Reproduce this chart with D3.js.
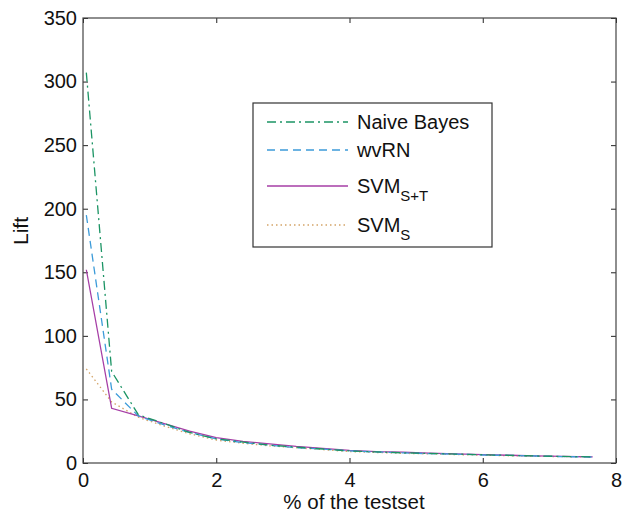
<!DOCTYPE html>
<html>
<head>
<meta charset="utf-8">
<script src="https://cdn.jsdelivr.net/npm/d3@7"></script>
<style>
  body { margin: 0; background: #fff; }
  svg text { font-family: Arial, "Liberation Sans", sans-serif; fill: #111; }
</style>
</head>
<body>
<div id="chart"></div>
<script>
// % of the testset
const pct = [0.05, 0.43, 0.83, 1.22, 1.6, 2.0, 2.4, 2.8, 3.2, 3.6, 4.0, 4.4, 4.8, 5.2, 5.6, 6.0, 6.4, 6.8, 7.2, 7.65];

const naiveBayes = [307, 72, 38, 31, 24, 19, 16.5, 14, 12.5, 11, 9.5, 8.7, 8, 7.5, 7, 6.5, 6, 5.5, 5.2, 4.8];
const wvRN       = [195, 58, 37, 30, 24, 19, 16, 14, 12, 11, 9.5, 8.7, 8, 7.3, 7, 6.3, 6, 5.5, 5, 4.7];
const svmST      = [152, 43, 37, 31, 25, 20, 17, 15, 13, 11.5, 10, 9, 8.5, 7.8, 7.2, 6.6, 6.1, 5.6, 5.2, 4.8];
const svmS       = [74, 48, 36, 29, 23, 18, 15.5, 13.5, 12, 10.5, 9, 8.3, 7.6, 7.2, 6.6, 6.2, 5.7, 5.3, 5, 4.7];

const xTicks = [0, 2, 4, 6, 8];
const yTicks = [0, 50, 100, 150, 200, 250, 300, 350];

const series = [
    { name: "Naive Bayes", sub: "", values: naiveBayes, color: "#1b9464", dash: "9,4,2,4" },
    { name: "wvRN", sub: "", values: wvRN, color: "#3c9bd9", dash: "8,5" },
    { name: "SVM", sub: "S+T", values: svmST, color: "#a63ea6", dash: null },
    { name: "SVM", sub: "S", values: svmS, color: "#d4a468", dash: "1.5,3" }
];

const width = 623, height = 514;
const margin = { top: 18, right: 7, bottom: 51, left: 83 };

const svg = d3.select("#chart").append("svg")
    .attr("width", width)
    .attr("height", height);

const x = d3.scaleLinear().domain([0, 8]).range([margin.left, width - margin.right]);
const y = d3.scaleLinear().domain([0, 350]).range([height - margin.bottom, margin.top]);

// axes, ticks point inward
svg.append("g")
    .attr("transform", `translate(0,${y(0)})`)
    .call(d3.axisBottom(x).tickValues(xTicks).tickSizeInner(-5).tickSizeOuter(0).tickPadding(10))
    .call(g => g.select(".domain").remove())
    .call(g => g.selectAll("text").attr("font-size", 20).attr("font-family", null));

svg.append("g")
    .attr("transform", `translate(${margin.left},0)`)
    .call(d3.axisLeft(y).tickValues(yTicks).tickSizeInner(-5).tickSizeOuter(0).tickPadding(6))
    .call(g => g.select(".domain").remove())
    .call(g => g.selectAll("text").attr("font-size", 20).attr("font-family", null));

// ticks on top and right edges
svg.append("g")
    .attr("transform", `translate(0,${y(350)})`)
    .call(d3.axisTop(x).tickValues(xTicks).tickSizeInner(-5).tickSizeOuter(0).tickFormat(""))
    .call(g => g.select(".domain").remove());
svg.append("g")
    .attr("transform", `translate(${x(8)},0)`)
    .call(d3.axisRight(y).tickValues(yTicks).tickSizeInner(-5).tickSizeOuter(0).tickFormat(""))
    .call(g => g.select(".domain").remove());

svg.selectAll(".tick line").attr("stroke", "#222");

// frame
svg.append("rect")
    .attr("x", x(0)).attr("y", y(350))
    .attr("width", x(8) - x(0)).attr("height", y(0) - y(350))
    .attr("fill", "none")
    .attr("stroke", "#444")
    .attr("stroke-width", 1.2);

const line = d3.line()
    .x((d, i) => x(pct[i]))
    .y(d => y(d));

svg.append("g")
    .selectAll("path")
    .data(series.slice().reverse())
    .enter()
    .append("path")
    .attr("d", d => line(d.values))
    .attr("fill", "none")
    .attr("stroke", d => d.color)
    .attr("stroke-width", 1.3)
    .attr("stroke-dasharray", d => d.dash);

// axis labels
svg.append("text")
    .attr("x", 354).attr("y", 509)
    .attr("text-anchor", "middle")
    .attr("font-size", 20.5)
    .text("% of the testset");

svg.append("text")
    .attr("transform", "translate(28,231) rotate(-90)")
    .attr("text-anchor", "middle")
    .attr("font-size", 21)
    .text("Lift");

// legend
const legend = svg.append("g").attr("transform", "translate(253,103)");
legend.append("rect")
    .attr("width", 239).attr("height", 144)
    .attr("fill", "#fff")
    .attr("stroke", "#333")
    .attr("stroke-width", 1.2);

const rowY = [19, 47, 83, 122];
const items = legend.selectAll("g.item")
    .data(series)
    .enter()
    .append("g")
    .attr("class", "item")
    .attr("transform", (d, i) => `translate(0,${rowY[i]})`);

items.append("line")
    .attr("x1", 14).attr("x2", 95)
    .attr("stroke", d => d.color)
    .attr("stroke-width", 1.3)
    .attr("stroke-dasharray", d => d.dash);

const label = items.append("text")
    .attr("x", 104).attr("y", 7)
    .attr("font-size", 20);
label.append("tspan").text(d => d.name);
label.append("tspan")
    .attr("dy", 8)
    .attr("font-size", 15)
    .text(d => d.sub);
</script>
</body>
</html>
